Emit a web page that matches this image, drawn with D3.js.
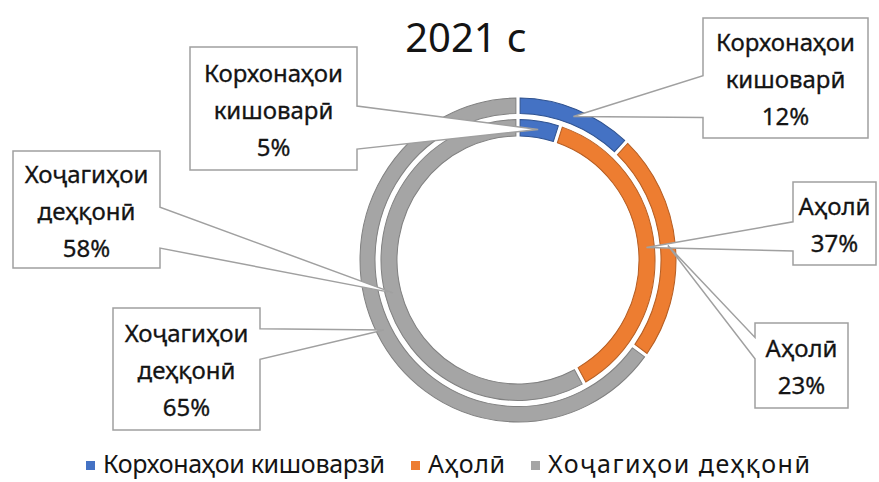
<!DOCTYPE html>
<html>
<head>
<meta charset="utf-8">
<script src="https://cdn.jsdelivr.net/npm/d3@7"></script>
<style>
  body { margin: 0; background: #fff; }
</style>
</head>
<body>
<script>
// Data
const title = "2021 с";
const categories = ["Корхонаҳои кишоварзӣ", "Аҳолӣ", "Хоҷагиҳои деҳқонӣ"];
const calloutNames = [["Корхонаҳои", "кишоварӣ"], ["Аҳолӣ"], ["Хоҷагиҳои", "деҳқонӣ"]];
const outerValues = [12, 23, 65];
const innerValues = [5, 37, 58];

const width = 879, height = 482;
const cx = 518, cy = 260, yStretch = 1.025;
const font = "'Noto Sans', 'DejaVu Sans', sans-serif";
const ink = "#141414";

const color = d3.scaleOrdinal()
    .domain(categories)
    .range(["#4472C4", "#ED7D31", "#A5A5A5"]);
const edge = d3.scaleOrdinal()
    .domain(categories)
    .range(["#2F528F", "#B55D22", "#808080"]);

// ring geometry and callout boxes for each ring (one box per category)
const rings = [
  { name: "inner", values: innerValues, r0: 121, r1: 137,
    boxes: [[190, 47, 357, 170], [793, 182, 876, 265], [13, 151, 160, 268]] },
  { name: "outer", values: outerValues, r0: 143, r1: 158,
    boxes: [[703, 18, 868, 138], [755, 323, 848, 408], [113, 308, 260, 430]] }
];

// legend layout: marker x and text width of each entry
const legendX = [86, 411, 531];
const legendW = [282, 77, 262];

const svg = d3.select("body").append("svg")
    .attr("width", width)
    .attr("height", height)
    .style("font-family", font);

const pie = d3.pie().sort(null).value(d => d.value);

// Draw the rings
const chart = svg.append("g")
    .attr("transform", `translate(${cx},${cy}) scale(1,${yStretch})`);

rings.forEach(ring => {
  ring.arcs = pie(categories.map((c, i) => ({ key: c, value: ring.values[i] })));
  const arc = d3.arc()
      .innerRadius(ring.r0)
      .outerRadius(ring.r1)
      .padAngle(0.028)
      .padRadius(150);
  chart.append("g")
    .selectAll("path")
    .data(ring.arcs)
    .join("path")
      .attr("d", arc)
      .attr("fill", d => color(d.data.key))
      .attr("stroke", d => edge(d.data.key))
      .attr("stroke-width", 1);
});

// Callouts with a wedge pointing at the middle of each slice
function calloutPath(b, tip) {
  const [x0, y0, x1, y1] = b;
  const h = y1 - y0;
  const f = tip[1] > (y0 + y1) / 2 ? [0.48, 0.83] : [0.17, 0.42];
  const ya = y0 + h * f[0], yb = y0 + h * f[1];
  const p = d3.path();
  p.moveTo(x0, y0);
  p.lineTo(x1, y0);
  if (tip[0] > x1) {
    p.lineTo(x1, ya); p.lineTo(tip[0], tip[1]); p.lineTo(x1, yb);
  }
  p.lineTo(x1, y1);
  p.lineTo(x0, y1);
  if (tip[0] < x0) {
    p.lineTo(x0, yb); p.lineTo(tip[0], tip[1]); p.lineTo(x0, ya);
  }
  p.closePath();
  return p.toString();
}

const callouts = svg.append("g");
rings.forEach(ring => {
  const rMid = (ring.r0 + ring.r1) / 2;
  ring.arcs.forEach((a, i) => {
    const ang = (a.startAngle + a.endAngle) / 2;
    const tip = [cx + rMid * Math.sin(ang), cy - rMid * Math.cos(ang) * yStretch];
    const b = ring.boxes[i];
    const g = callouts.append("g");
    g.append("path")
        .attr("d", calloutPath(b, tip))
        .attr("fill", "#fff")
        .attr("stroke", "#A0A0A0")
        .attr("stroke-width", 1.5);
    const lines = calloutNames[i].concat([a.data.value + "%"]);
    const mid = (b[1] + b[3]) / 2;
    g.selectAll("text")
      .data(lines)
      .join("text")
        .attr("x", (b[0] + b[2]) / 2)
        .attr("y", (d, k) => mid + (k - (lines.length - 1) / 2) * 37 + 10)
        .attr("text-anchor", "middle")
        .attr("font-size", 24)
        .attr("fill", ink)
        .attr("stroke", ink)
        .attr("stroke-width", 0.3)
        .text(d => d);
  });
});

// Title
svg.append("text")
    .attr("x", 466)
    .attr("y", 52)
    .attr("text-anchor", "middle")
    .attr("font-size", 40)
    .attr("fill", ink)
    .text(title);

// Legend
const items = svg.append("g")
    .attr("transform", "translate(0,473)")
  .selectAll("g")
  .data(categories)
  .join("g")
    .attr("transform", (d, i) => `translate(${legendX[i]},0)`);
items.append("rect")
    .attr("width", 9)
    .attr("height", 9)
    .attr("y", -12)
    .attr("fill", d => color(d));
items.append("text")
    .attr("x", 17)
    .attr("font-size", 25)
    .attr("fill", ink)
    .attr("textLength", (d, i) => legendW[i])
    .attr("lengthAdjust", "spacing")
    .text(d => d);
</script>
</body>
</html>
